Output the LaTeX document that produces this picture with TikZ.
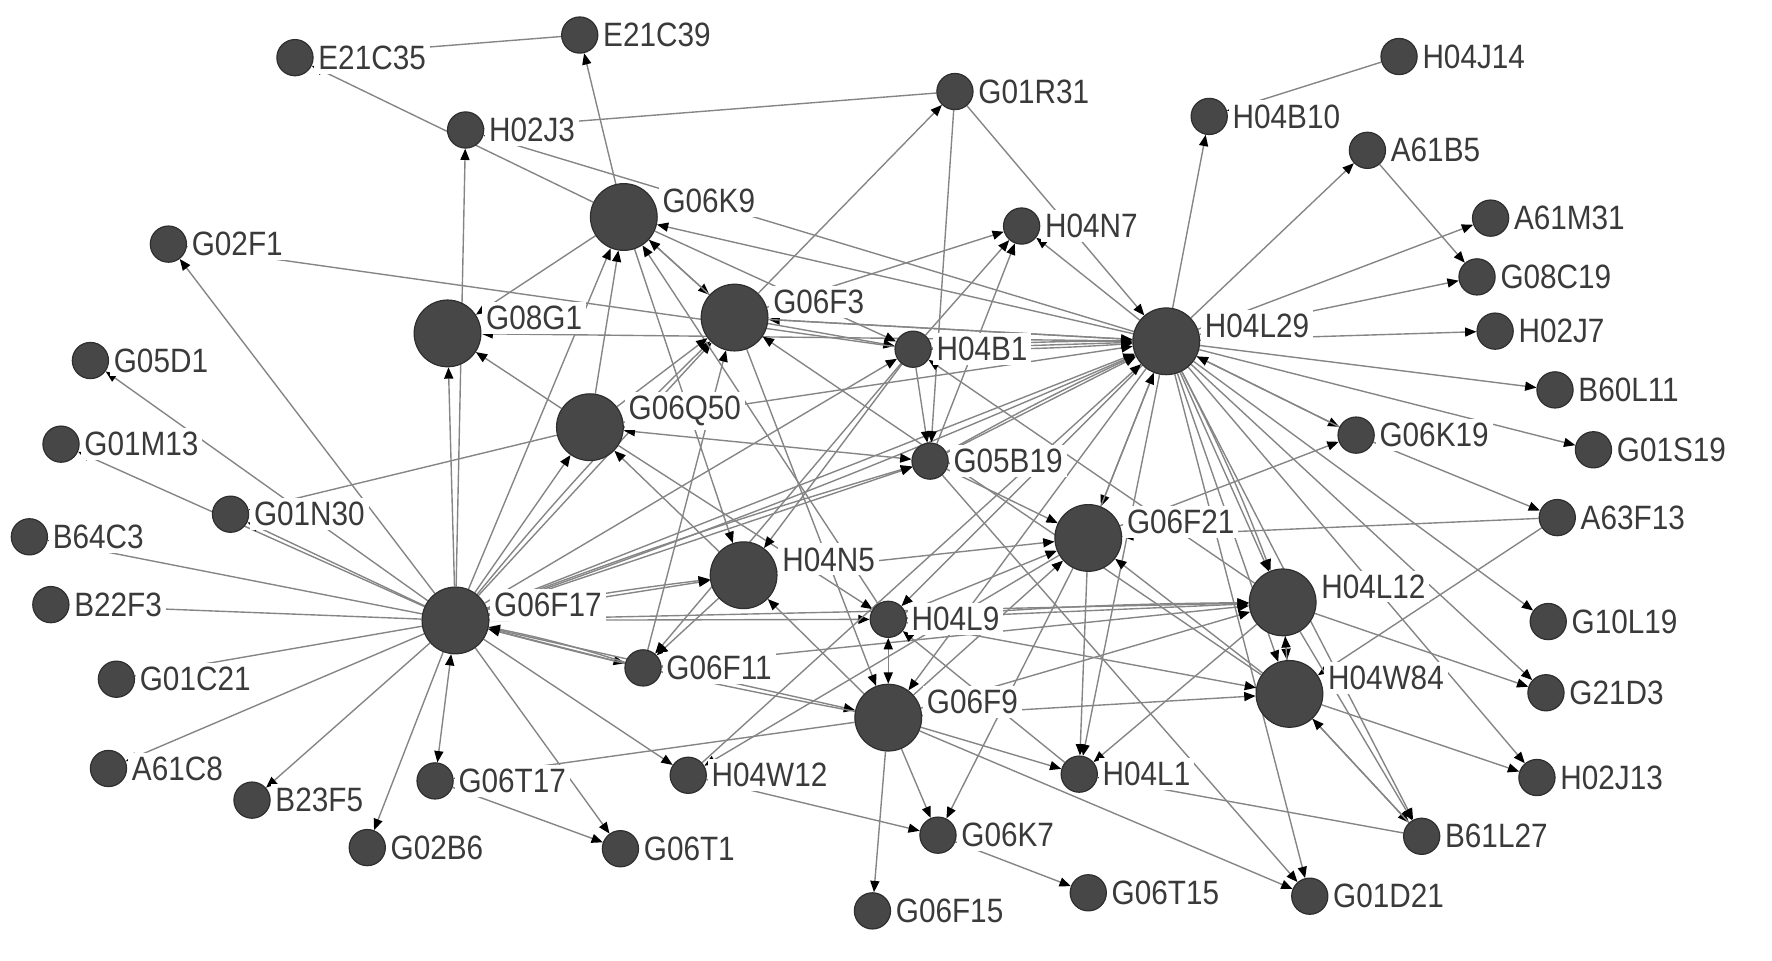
\documentclass[tikz,border=0pt]{standalone}
\usepackage{fontspec}
\newfontfamily\tagfont{Liberation Sans}[FakeStretch=0.88]
\usepackage{tikz}
\usetikzlibrary{
  arrows.meta,
  backgrounds
}
\definecolor{nodefill}{HTML}{474747}
\definecolor{nodeline}{HTML}{2E2E2E}
\definecolor{edgegray}{HTML}{858585}
\definecolor{tagtext}{HTML}{3A3A3A}
\tikzstyle{patent}=[circle, fill=nodefill, draw=nodeline, line width=0.3pt, minimum size=0.32cm, inner sep=0pt, label distance=0.03cm]
\tikzstyle{hub}=[patent, minimum size=0.59cm]
\tikzstyle{tag}=[fill=white, inner sep=1pt, text=tagtext, font=\tagfont\fontsize{8.5}{9}\selectfont]
\tikzstyle{hubtag}=[tag, yshift=0.14cm]
\tikzstyle{link}=[->, >={Triangle[length=0.1cm, width=0.08cm, color=black, fill=black]}, draw=edgegray, line width=0.35pt]
\tikzstyle{twoway}=[link, <->]

\begin{document}
\begin{tikzpicture}[x=0.01cm, y=-0.01cm]
    \useasboundingbox (0,0) rectangle (1568,850);

    % 周辺の小さいノード
    \node[patent, label={[tag]right:E21C35}] (E21C35) at (261,51) {};
    \node[patent, label={[tag]right:E21C39}] (E21C39) at (513,31) {};
    \node[patent, label={[tag]right:H02J3}] (H02J3) at (412,115) {};
    \node[patent, label={[tag]right:G01R31}] (G01R31) at (845,81) {};
    \node[patent, label={[tag]right:H04J14}] (H04J14) at (1238,50) {};
    \node[patent, label={[tag]right:H04B10}] (H04B10) at (1070,103) {};
    \node[patent, label={[tag]right:A61B5}] (A61B5) at (1210,133) {};
    \node[patent, label={[tag]right:A61M31}] (A61M31) at (1319,193) {};
    \node[patent, label={[tag]right:G08C19}] (G08C19) at (1307,245) {};
    \node[patent, label={[tag]right:H02J7}] (H02J7) at (1323,293) {};
    \node[patent, label={[tag]right:B60L11}] (B60L11) at (1376,345) {};
    \node[patent, label={[tag]right:G01S19}] (G01S19) at (1410,398) {};
    \node[patent, label={[tag]right:A63F13}] (A63F13) at (1378,458) {};
    \node[patent, label={[tag]right:G10L19}] (G10L19) at (1370,550) {};
    \node[patent, label={[tag]right:G21D3}] (G21D3) at (1368,613) {};
    \node[patent, label={[tag]right:H02J13}] (H02J13) at (1360,688) {};
    \node[patent, label={[tag]right:B61L27}] (B61L27) at (1258,740) {};
    \node[patent, label={[tag]right:G01D21}] (G01D21) at (1159,793) {};
    \node[patent, label={[tag]right:G06T15}] (G06T15) at (963,790) {};
    \node[patent, label={[tag]right:G06F15}] (G06F15) at (772,806) {};
    \node[patent, label={[tag]right:G06K7}] (G06K7) at (830,739) {};
    \node[patent, label={[tag]right:G06T1}] (G06T1) at (549,751) {};
    \node[patent, label={[tag]right:G02B6}] (G02B6) at (325,750) {};
    \node[patent, label={[tag]right:B23F5}] (B23F5) at (223,708) {};
    \node[patent, label={[tag]right:A61C8}] (A61C8) at (96,680) {};
    \node[patent, label={[tag]right:G01C21}] (G01C21) at (103,601) {};
    \node[patent, label={[tag]right:B22F3}] (B22F3) at (45,535) {};
    \node[patent, label={[tag]right:B64C3}] (B64C3) at (26,475) {};
    \node[patent, label={[tag]right:G01M13}] (G01M13) at (54,393) {};
    \node[patent, label={[tag]right:G05D1}] (G05D1) at (80,319) {};
    \node[patent, label={[tag]right:G02F1}] (G02F1) at (149,216) {};
    \node[patent, label={[tag]right:G01N30}] (G01N30) at (204,455) {};

    % 中央の小さいノード
    \node[patent, label={[tag]right:H04N7}] (H04N7) at (904,200) {};
    \node[patent, label={[tag]right:H04B1}] (H04B1) at (808,309) {};
    \node[patent, label={[tag]right:G05B19}] (G05B19) at (823,408) {};
    \node[patent, label={[tag]right:G06K19}] (G06K19) at (1200,385) {};
    \node[patent, label={[tag]right:H04L9}] (H04L9) at (786,548) {};
    \node[patent, label={[tag]right:G06F11}] (G06F11) at (569,591) {};
    \node[patent, label={[tag]right:G06T17}] (G06T17) at (385,691) {};
    \node[patent, label={[tag]right:H04W12}] (H04W12) at (609,686) {};
    \node[patent, label={[tag]right:H04L1}] (H04L1) at (955,685) {};

    % 大きいノード（ハブ）
    \node[hub, label={[hubtag]right:G06K9}] (G06K9) at (552,192) {};
    \node[hub, label={[hubtag]right:G08G1}] (G08G1) at (396,295) {};
    \node[hub, label={[hubtag]right:G06F3}] (G06F3) at (650,281) {};
    \node[hub, label={[hubtag]right:G06Q50}] (G06Q50) at (522,378) {};
    \node[hub, label={[hubtag]right:H04L29}] (H04L29) at (1032,302) {};
    \node[hub, label={[hubtag]right:G06F21}] (G06F21) at (963,476) {};
    \node[hub, label={[hubtag]right:H04N5}] (H04N5) at (658,509) {};
    \node[hub, label={[hubtag]right:G06F17}] (G06F17) at (403,549) {};
    \node[hub, label={[hubtag]right:H04L12}] (H04L12) at (1135,533) {};
    \node[hub, label={[hubtag]right:H04W84}] (H04W84) at (1141,614) {};
    \node[hub, label={[hubtag]right:G06F9}] (G06F9) at (786,635) {};

    \begin{scope}[on background layer]
    % G06F17 からの矢印
    \foreach \dst in {G02F1, G05D1, G01M13, G01N30, B64C3, B22F3, G01C21, A61C8, B23F5, G02B6,
        G06T1, H04W12, G06F11, G06F9, G08G1, H02J3, G06Q50, G06K9, G06F3, G05B19, H04B1,
        H04L29, H04N5, H04L9, H04L12}
      \draw[link] (G06F17) -- (\dst);
    \draw[link] (G06F17) to[bend left=3] (G06F3);
    \draw[link] (G06F17) to[bend left=2] (G05B19);
    \draw[link] (G06F17) to[bend right=2] (H04L29);
    \draw[link] (G06F17) to[bend left=2] (H04N5);
    \draw[twoway] (G06F17) -- (G06T17);
    \draw[link] (G06F11) to[bend right=3] (G06F17);
    \draw[link] (G06F9) to[bend left=2] (G06F17);

    % H04L29 からの矢印
    \foreach \dst in {H02J3, G06K9, G06F3, G08G1, H04N7, H04B10, A61B5, A61M31, G08C19, H02J7,
        B60L11, G01S19, G06K19, G10L19, G21D3, H02J13, H04L12, H04W84, G01D21, B61L27,
        H04L1, G06F21, H04L9, G06F9}
      \draw[link] (H04L29) -- (\dst);
    \draw[link] (H04L29) to[bend left=3] (H04L12);

    % その他の矢印
    \foreach \src/\dst in {G06K9/E21C35, G06K9/E21C39, G06K9/H04N5, G06K9/G08G1, G06K9/H04B1,
        G06K9/G06F3, G06F3/G06K9, G06Q50/G06K9, H04L9/G06K9, E21C39/E21C35,
        G01R31/H02J3, G01R31/G05B19, G01R31/H04L29, H04J14/H04B10, A61B5/G08C19,
        G06F3/G01R31, G06F3/H04N7, G06F3/H04B1, G06F3/H04L29, G06F3/G06F9,
        G06Q50/G08G1, G06Q50/G06F3, G06Q50/H04L29, G06Q50/G01N30, G06Q50/H04L9,
        H04N5/G06Q50, H04N5/G06F21, H04N5/G06F11, G06F11/G06F3, G06F11/H04L12,
        H04B1/H04N7, H04B1/G02F1, H04B1/G06F11, H04B1/H04L29, H04B1/G05B19, H04B1/H04N5,
        G05B19/H04N7, G05B19/G01D21, G05B19/G06F21, G05B19/H04L29,
        G06K19/A63F13, G06K19/H04L29, G06F21/G06K19, G06F21/H04L29, G06F21/G06K7,
        G06F21/H04L1, G06F21/H04W12, A63F13/G06F21, A63F13/H04W84,
        G06F9/H04N5, G06F9/G06F15, G06F9/G06K7, G06F9/H04L1, G06F9/G01D21, G06F9/G06T17,
        G06F9/H04W84, G06F9/H04L12, G06F9/G06F21, H04L9/H04L12, H04L9/H04W84,
        H04L9/G06F21, H04L1/H04L9, H04L12/H04W84, H04L12/H04L1, H04L12/G21D3,
        H04L12/B61L27, H04L12/H04B1, H04W84/H04L12, H04W84/H02J13, H04W84/G06F21,
        H04W84/G06F3, H04W84/B61L27, B61L27/H04W84, B61L27/H04L1, G06T17/G06T1,
        H04W12/G06K7, H04W12/H04L29, G06K7/G06T15}
      \draw[link] (\src) -- (\dst);
    \draw[link] (H04B1) to[bend left=2] (H04L29);
    \draw[link] (H04B1) to[bend right=2] (H04L29);
    \draw[link] (G05B19) to[bend left=2] (H04L29);
    \draw[link] (H04L9) to[bend left=2] (H04L12);
    \draw[twoway] (G06Q50) -- (G05B19);
    \draw[twoway] (H04L9) -- (G06F9);
    \end{scope}
\end{tikzpicture}
\end{document}
